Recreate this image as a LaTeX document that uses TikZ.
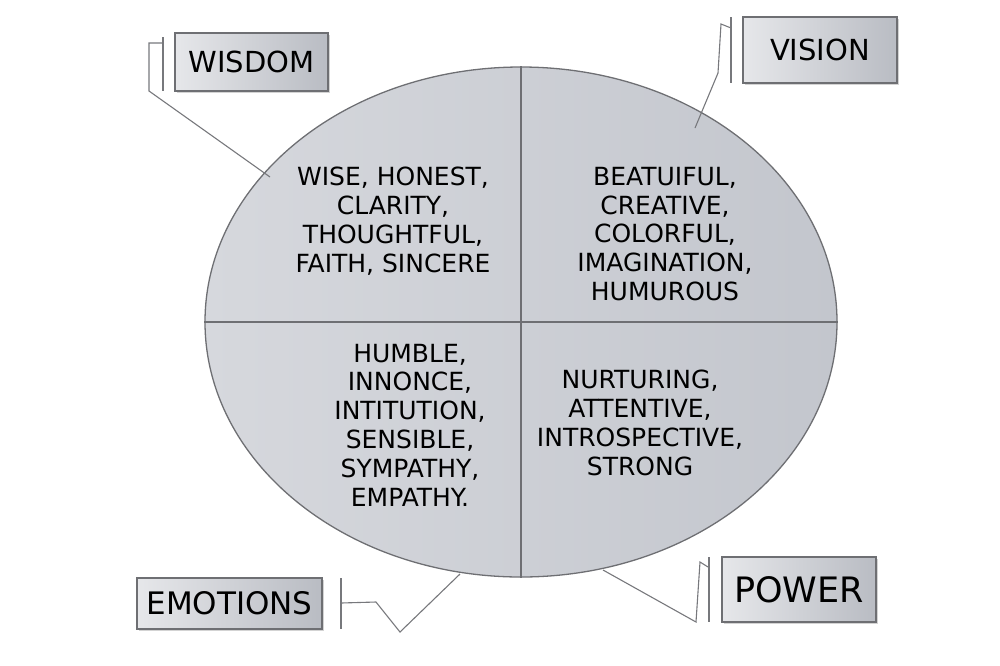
\documentclass[tikz,border=0pt]{standalone}
\usepackage{fontspec}
\setmainfont{DejaVu Sans}
\usetikzlibrary{shapes.geometric,shadows}
\definecolor{ellL}{HTML}{D6D8DD}
\definecolor{ellR}{HTML}{C3C6CD}
\definecolor{boxL}{HTML}{E6E7EA}
\definecolor{boxR}{HTML}{B9BCC3}
\definecolor{edge}{HTML}{6E6F73}
\definecolor{callout}{HTML}{77787C}
\tikzset{
  lab/.style={draw=edge, line width=1.2pt, left color=boxL, right color=boxR,
    drop shadow={shadow xshift=1.5pt, shadow yshift=-1.5pt, opacity=0.35},
    inner sep=0pt, text=black},
  qtext/.style={align=center, font=\fontsize{25}{28.8}\selectfont, text=black},
  cline/.style={draw=callout, line width=1.1pt},
}
\begin{document}
\begin{tikzpicture}[x=1pt,y=-1pt]
\useasboundingbox (0,0) rectangle (1000,665);
% main ellipse
\node[ellipse, draw=edge, line width=1.3pt, left color=ellL, right color=ellR,
  minimum width=632pt, minimum height=510pt, inner sep=0pt] (E) at (521,322) {};
\draw[draw=edge, line width=1.2pt] (E.west) -- (E.east);
\draw[draw=edge, line width=1.2pt] (E.north) -- (E.south);
% quadrant texts
\node[qtext] (tl) at (393,221) {WISE, HONEST,\\CLARITY,\\THOUGHTFUL,\\FAITH, SINCERE};
\node[qtext] (tr) at (665,234) {BEATUIFUL,\\CREATIVE,\\COLORFUL,\\IMAGINATION,\\HUMUROUS};
\node[qtext] (bl) at (410,425) {HUMBLE,\\INNONCE,\\INTITUTION,\\SENSIBLE,\\SYMPATHY,\\EMPATHY.};
\node[qtext] (br) at (640,423) {NURTURING,\\ATTENTIVE,\\INTROSPECTIVE,\\STRONG};
% label boxes
\node[lab, minimum width=153pt, minimum height=58pt, font=\fontsize{29}{32}\selectfont] (wis) at (251.5,62) {WISDOM};
\node[lab, minimum width=154pt, minimum height=66pt, font=\fontsize{29}{32}\selectfont] (vis) at (820,50) {VISION};
\node[lab, minimum width=185pt, minimum height=51pt, font=\fontsize{31}{34}\selectfont] (emo) at (229.5,603.5) {EMOTIONS};
\node[lab, minimum width=154pt, minimum height=65pt, font=\fontsize{35}{38}\selectfont] (pow) at (799,589.5) {POWER};
% callout anchors
\coordinate (wA) at (163,37);
\coordinate (wB) at (163,91);
\coordinate (wC) at (163,43);
\coordinate (wD) at (149,43);
\coordinate (wE) at (149,91);
\coordinate (wF) at (270,177);
\coordinate (vA) at (731,17);
\coordinate (vB) at (731,83);
\coordinate (vC) at (731,28);
\coordinate (vD) at (721,24);
\coordinate (vE) at (718,73);
\coordinate (vF) at (695,128);
\coordinate (eA) at (341,578);
\coordinate (eB) at (341,629);
\coordinate (eC) at (341,603);
\coordinate (eD) at (376,602);
\coordinate (eE) at (400,632);
\coordinate (eF) at (460,574);
\coordinate (pA) at (709,557);
\coordinate (pB) at (709,622);
\coordinate (pC) at (708,567);
\coordinate (pD) at (700,562);
\coordinate (pE) at (696,622);
\coordinate (pF) at (603,570);
% callouts
\draw[cline] (wA) -- (wB);
\draw[cline] (wC) -- (wD) -- (wE) -- (wF);
\draw[cline] (vA) -- (vB);
\draw[cline] (vC) -- (vD) -- (vE) -- (vF);
\draw[cline] (eA) -- (eB);
\draw[cline] (eC) -- (eD) -- (eE) -- (eF);
\draw[cline] (pA) -- (pB);
\draw[cline] (pC) -- (pD) -- (pE) -- (pF);
\end{tikzpicture}
\end{document}
